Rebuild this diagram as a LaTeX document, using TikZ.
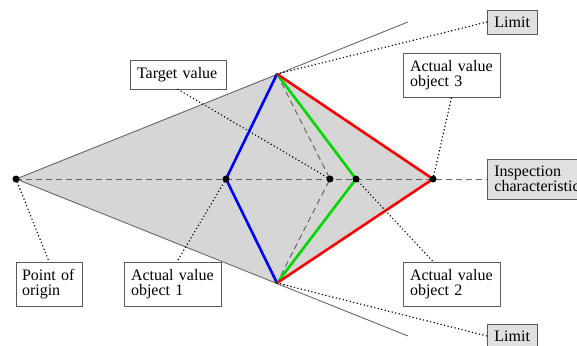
\documentclass[tikz,border=0pt]{standalone}
\usepackage{fontspec}
\setmainfont{Liberation Serif}
\begin{document}
\begin{tikzpicture}[x=1pt,y=-1pt,
  box/.style={draw=black!65, line width=0.8pt, fill=white, align=left, inner xsep=7pt, inner ysep=0pt,
    font=\fontsize{16}{14.5}\selectfont},
  graybox/.style={box, fill=black!12},
  dotline/.style={black, line width=1.6pt, dash pattern=on 0pt off 3.6pt, line cap=round},
  dashline/.style={black!60, line width=1pt, dash pattern=on 6pt off 4pt},
  limitline/.style={black!60, line width=0.9pt},
  dot/.style={circle, fill=black, inner sep=0pt, minimum size=7pt}]
\useasboundingbox (0,0) rectangle (577,345);

% points
\coordinate (O) at (16,179);
\coordinate (T) at (277,74);
\coordinate (B) at (277,283);
\coordinate (A1) at (226,179);
\coordinate (TV) at (330,179);
\coordinate (A2) at (356,179);
\coordinate (A3) at (433,179);
\coordinate (LT) at (408,22);
\coordinate (LB) at (408,336);

% shaded region
\fill[black!16] (O) -- (T) -- (A3) -- (B) -- cycle;

% boxes
\node[graybox, anchor=west, minimum height=24pt, text width=36pt] (lim1) at (487,22) {Limit};
\node[graybox, anchor=west, minimum height=24pt, text width=36pt] (lim2) at (487,336) {Limit};
\node[graybox, anchor=west, minimum height=40pt, text width=100pt] (insp) at (487,179) {Inspection\\characteristics};
\node[box, minimum width=97pt, minimum height=44pt, text width=83pt] (av3) at (451.5,75) {Actual value\\object 3};
\node[box, minimum width=97pt, minimum height=44pt, text width=83pt] (av2) at (451.5,284) {Actual value\\object 2};
\node[box, minimum width=97pt, minimum height=44pt, text width=83pt] (av1) at (172.5,284) {Actual value\\object 1};
\node[box, inner xsep=6pt, minimum width=66pt, minimum height=44pt, text width=54pt] (poo) at (49,284) {Point~of\\origin};
\node[box, minimum width=96pt, minimum height=29pt, text width=82pt] (tv) at (178,74.5) {Target value};

% limit lines
\draw[limitline] (O) -- (LT);
\draw[limitline] (O) -- (LB);

% dashed lines
\draw[dashline] (O) -- (insp.west);
\draw[dashline] (T) -- (TV) -- (B);

% value lines
\draw[blue, line width=2.6pt, line join=round] (T) -- (A1) -- (B);
\draw[green!85!black, line width=2.6pt, line join=round] (T) -- (A2) -- (B);
\draw[red, line width=2.6pt, line join=round] (T) -- (A3) -- (B);

% dotted connectors
\draw[dotline] (O) -- (poo.north);
\draw[dotline] (A1) -- ([xshift=4.5pt]av1.north);
\draw[dotline] (tv.south) -- (TV);
\draw[dotline] (A2) -- ([xshift=-18.5pt]av2.north);
\draw[dotline] (A3) -- (av3.south);
\draw[dotline] (T) -- (lim1.west);
\draw[dotline] (B) -- (lim2.west);

% dots
\node[dot] (dO) at (O) {};
\node[dot] (dA1) at (A1) {};
\node[dot] (dTV) at (TV) {};
\node[dot] (dA2) at (A2) {};
\node[dot] (dA3) at (A3) {};
\end{tikzpicture}
\end{document}
